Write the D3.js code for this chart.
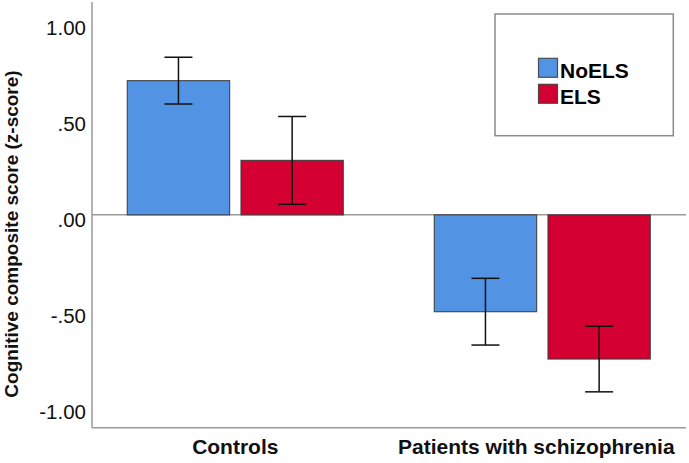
<!DOCTYPE html>
<html>
<head>
<meta charset="utf-8">
<script src="https://cdn.jsdelivr.net/npm/d3@7"></script>
<style>
  html, body { margin: 0; padding: 0; background: #fff; }
  svg { display: block; font-family: Arial, "Liberation Sans", sans-serif; }
</style>
</head>
<body>
<svg id="chart" width="689" height="463"></svg>
<script>
// ---- data ----
const categories = ["Controls", "Patients with schizophrenia"];
const seriesNames = ["NoELS", "ELS"];
const noElsMeans = [0.70, -0.505];
const elsMeans = [0.284, -0.752];
const noElsErr = [0.122, 0.174];
const elsErr = [0.229, 0.171];
const yTicks = [1.0, 0.5, 0.0, -0.5, -1.0];
const yTickLabels = ["1.00", ".50", ".00", "-.50", "-1.00"];
const colors = ["#5393e3", "#d50032"];

const rows = [];
categories.forEach((c, i) => {
  rows.push({ cat: c, series: "NoELS", mean: noElsMeans[i], err: noElsErr[i] });
  rows.push({ cat: c, series: "ELS", mean: elsMeans[i], err: elsErr[i] });
});

const svg = d3.select("#chart");

const plotLeft = 92, plotRight = 686, plotTop = 2, plotBottom = 427.7;

const y = d3.scaleLinear().domain([-1.11, 1.11]).range([plotBottom, plotTop]);
const xGroup = d3.scaleBand().domain(categories).range([81.8, 695.8]).padding(0);
const xSub = d3.scaleBand().domain(seriesNames).range([45.5, 261.5]).paddingInner(0.1).paddingOuter(0);
const color = d3.scaleOrdinal().domain(seriesNames).range(colors);

const axisColor = "#9a9a9a";

// zero line
svg.append("line")
  .attr("x1", plotLeft).attr("x2", plotRight)
  .attr("y1", y(0)).attr("y2", y(0))
  .attr("stroke", axisColor).attr("stroke-width", 1.5);

// bars
svg.append("g").selectAll("rect").data(rows).join("rect")
  .attr("x", d => xGroup(d.cat) + xSub(d.series))
  .attr("width", xSub.bandwidth())
  .attr("y", d => Math.min(y(d.mean), y(0)))
  .attr("height", d => Math.abs(y(d.mean) - y(0)))
  .attr("fill", d => color(d.series))
  .attr("stroke", "#3a3a3a")
  .attr("stroke-opacity", 0.85)
  .attr("stroke-width", 1.2);

// error bars
const capHalf = 14;
const eg = svg.append("g").attr("stroke", "#111").attr("stroke-width", 1.5);
rows.forEach(d => {
  const cx = xGroup(d.cat) + xSub(d.series) + xSub.bandwidth() / 2;
  const yHi = y(d.mean + d.err), yLo = y(d.mean - d.err);
  eg.append("line").attr("x1", cx).attr("x2", cx).attr("y1", yHi).attr("y2", yLo);
  eg.append("line").attr("x1", cx - capHalf).attr("x2", cx + capHalf).attr("y1", yHi).attr("y2", yHi);
  eg.append("line").attr("x1", cx - capHalf).attr("x2", cx + capHalf).attr("y1", yLo).attr("y2", yLo);
});

// y axis line and bottom line
svg.append("line")
  .attr("x1", plotLeft).attr("x2", plotLeft)
  .attr("y1", plotTop).attr("y2", plotBottom)
  .attr("stroke", axisColor).attr("stroke-width", 1.5);
svg.append("line")
  .attr("x1", plotLeft).attr("x2", plotRight)
  .attr("y1", plotBottom).attr("y2", plotBottom)
  .attr("stroke", axisColor).attr("stroke-width", 1.5);

// y tick labels
svg.append("g").selectAll("text").data(yTicks).join("text")
  .attr("x", 86)
  .attr("y", d => y(d) + 12)
  .attr("text-anchor", "end")
  .attr("font-size", 20.5)
  .attr("fill", "#111")
  .text((d, i) => yTickLabels[i]);

// y axis title
svg.append("text")
  .attr("transform", `translate(18, ${(70 + 398) / 2}) rotate(-90)`)
  .attr("text-anchor", "middle")
  .attr("font-size", 19)
  .attr("font-weight", "bold")
  .attr("fill", "#111")
  .text("Cognitive composite score (z-score)");

// category labels
const catOffsets = [0, -6];
svg.append("g").selectAll("text").data(categories).join("text")
  .attr("x", (d, i) => xGroup(d) + xGroup.bandwidth() / 2 + catOffsets[i])
  .attr("y", 454)
  .attr("text-anchor", "middle")
  .attr("font-size", 21)
  .attr("font-weight", "bold")
  .attr("fill", "#111")
  .text(d => d);

// legend
const lg = svg.append("g");
lg.append("rect")
  .attr("x", 495).attr("y", 14).attr("width", 178.3).attr("height", 121.7)
  .attr("fill", "#fff").attr("stroke", "#8a8a8a").attr("stroke-width", 1.5);
seriesNames.forEach((s, i) => {
  const yy = 58.3 + i * 26;
  lg.append("rect")
    .attr("x", 538.5).attr("y", yy).attr("width", 19).attr("height", 19)
    .attr("fill", color(s)).attr("stroke", "#3a3a3a").attr("stroke-opacity", 0.85).attr("stroke-width", 1.2);
  lg.append("text")
    .attr("x", 560).attr("y", yy + 19.5)
    .attr("font-size", 21).attr("font-weight", "bold").attr("fill", "#000")
    .text(s);
});
</script>
</body>
</html>
